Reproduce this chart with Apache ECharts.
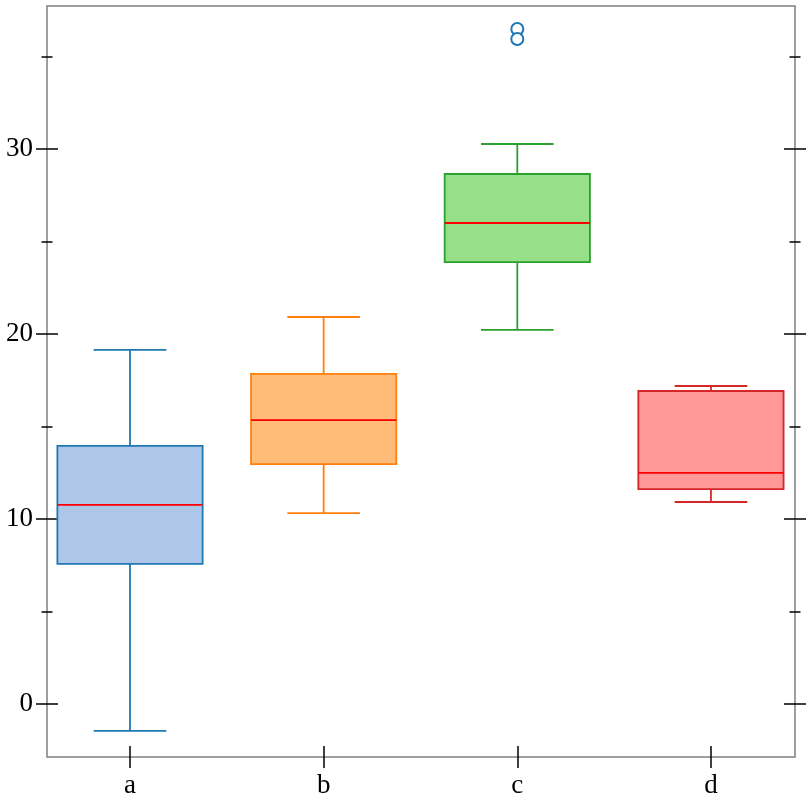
<!DOCTYPE html>
<html>
<head>
<meta charset="utf-8">
<title>Boxplot</title>
<script src="https://cdn.jsdelivr.net/npm/echarts@6/dist/echarts.min.js"></script>
<style>
  html, body { margin: 0; padding: 0; background: #fff; }
</style>
</head>
<body>
<div id="main" style="width: 812px; height: 812px;"></div>
<script type="text/javascript">
// data
var categories = ['a', 'b', 'c', 'd'];
var positions = [1, 2, 3, 4];
var lowWhisker = [-1.45, 10.32, 20.22, 10.92];
var q1 = [7.57, 12.97, 23.89, 11.62];
var median = [10.76, 15.35, 26.0, 12.49];
var q3 = [13.95, 17.84, 28.65, 16.92];
var highWhisker = [19.14, 20.92, 30.27, 17.19];
var outliers = [[3, 36.49], [3, 35.95]];
var majorTicks = [0, 10, 20, 30];
var minorTicks = [5, 15, 25, 35];

var edgeColors = ['#1f77b4', '#ff7f0e', '#2ca02c', '#d62728'];
var fillColors = ['#aec7e8', '#ffbb78', '#98df8a', '#ff9896'];

var yMin = -2.865, yMax = 37.73;
var xMin = 0.5714, xMax = 4.434;
var boxWidth = 0.75, capWidth = 0.375;
var font = 'Liberation Serif';

var boxData = positions.map(function (p, i) {
  return [p, lowWhisker[i], q1[i], median[i], q3[i], highWhisker[i]];
});

function yAx(pos, ticks, len, labels) {
  return {
    type: 'value', position: pos, min: yMin, max: yMax,
    offset: -len / 2,
    axisLine: { show: false, onZero: false },
    splitLine: { show: false },
    axisTick: { show: true, length: len, customValues: ticks, lineStyle: { color: '#000', width: 1.5 } },
    axisLabel: {
      show: labels, customValues: ticks, margin: 25,
      color: '#000', fontFamily: font, fontSize: 27
    }
  };
}

var myChart = echarts.init(document.getElementById('main'));
myChart.setOption({
  animation: false,
  backgroundColor: '#fff',
  grid: {
    left: 47, right: 17, top: 6, bottom: 55,
    show: true, borderColor: '#7f7f7f', borderWidth: 1.5, backgroundColor: 'transparent'
  },
  xAxis: [{
    type: 'value', position: 'bottom', min: xMin, max: xMax, offset: -11,
    axisLine: { show: false, onZero: false },
    splitLine: { show: false },
    axisTick: { show: true, length: 22, customValues: positions, lineStyle: { color: '#000', width: 1.5 } },
    axisLabel: {
      customValues: positions, margin: 26, color: '#000', fontFamily: font, fontSize: 27,
      formatter: function (v) { return categories[Math.round(v) - 1]; }
    }
  }],
  yAxis: [
    yAx('left', majorTicks, 22, true),
    yAx('left', minorTicks, 11, false),
    yAx('right', majorTicks, 22, false),
    yAx('right', minorTicks, 11, false)
  ],
  series: [{
    type: 'custom',
    data: boxData,
    encode: { x: 0, y: [1, 2, 3, 4, 5] },
    renderItem: function (params, api) {
      var i = params.dataIndex;
      var x = api.value(0);
      var lo = api.coord([x, api.value(1)]);
      var b1 = api.coord([x, api.value(2)]);
      var md = api.coord([x, api.value(3)]);
      var b3 = api.coord([x, api.value(4)]);
      var hi = api.coord([x, api.value(5)]);
      var bw = api.size([boxWidth, 0])[0];
      var cw = api.size([capWidth, 0])[0];
      var ls = { stroke: edgeColors[i], lineWidth: 1.8 };
      return {
        type: 'group',
        children: [
          { type: 'line', shape: { x1: lo[0], y1: lo[1], x2: b1[0], y2: b1[1] }, style: ls },
          { type: 'line', shape: { x1: hi[0], y1: hi[1], x2: b3[0], y2: b3[1] }, style: ls },
          { type: 'line', shape: { x1: lo[0] - cw / 2, y1: lo[1], x2: lo[0] + cw / 2, y2: lo[1] }, style: ls },
          { type: 'line', shape: { x1: hi[0] - cw / 2, y1: hi[1], x2: hi[0] + cw / 2, y2: hi[1] }, style: ls },
          {
            type: 'rect',
            shape: { x: b3[0] - bw / 2, y: b3[1], width: bw, height: b1[1] - b3[1] },
            style: { fill: fillColors[i], stroke: edgeColors[i], lineWidth: 1.8 }
          },
          {
            type: 'line',
            shape: { x1: md[0] - bw / 2, y1: md[1], x2: md[0] + bw / 2, y2: md[1] },
            style: { stroke: '#ff0000', lineWidth: 1.8 }
          }
        ]
      };
    }
  }, {
    type: 'scatter',
    data: outliers,
    symbol: 'emptyCircle',
    symbolSize: 12,
    itemStyle: { color: '#1f77b4', borderColor: '#1f77b4', borderWidth: 1.8, opacity: 1 }
  }]
});
</script>
</body>
</html>
